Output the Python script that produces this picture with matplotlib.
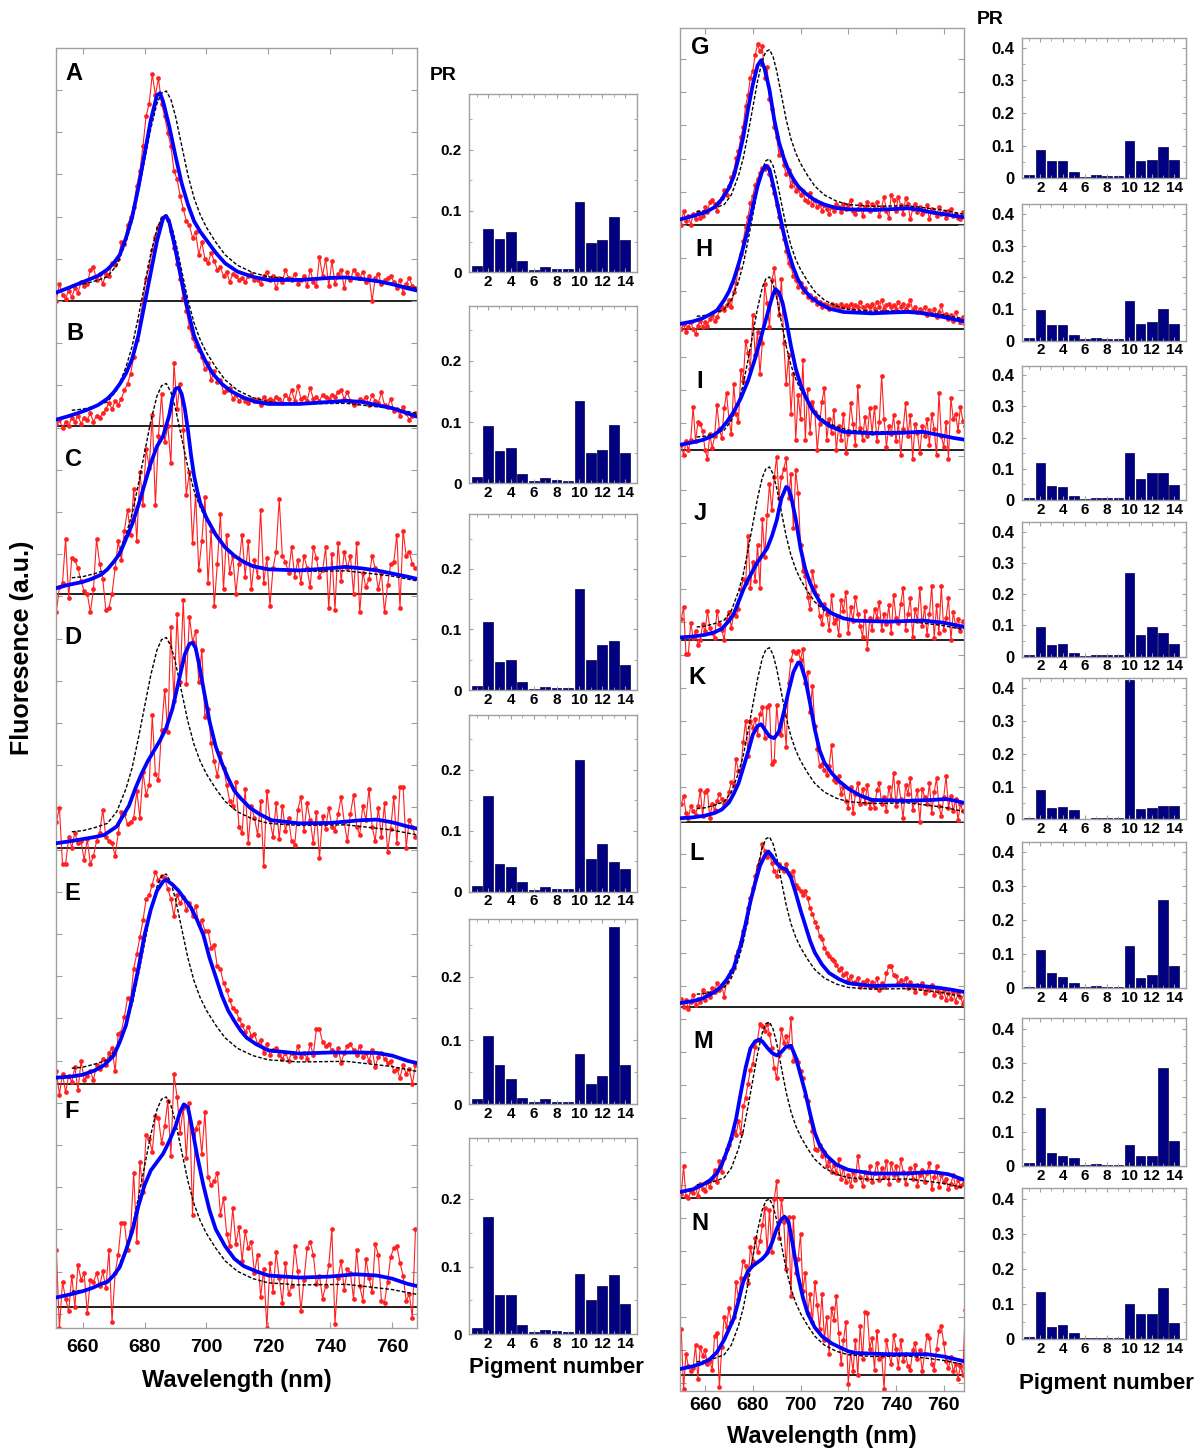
import numpy as np
import matplotlib
matplotlib.use("Agg")
import matplotlib.pyplot as plt
from matplotlib.ticker import FixedLocator, MultipleLocator

plt.rcParams['font.family'] = ['Liberation Sans', 'DejaVu Sans']
plt.rcParams['font.weight'] = 'bold'

# ------------------------------------------------------------------ data
WL_TICKS = [660, 680, 700, 720, 740, 760]
PIGMENTS = list(range(1, 15))
PIG_TICKS = [2, 4, 6, 8, 10, 12, 14]

# reference (dashed) spectrum, normalised to its peak
REF_WL = [656.5, 660, 664, 668, 671, 674, 676, 678, 680, 682, 684, 685.5, 687, 688.5, 690, 692, 694, 696,
          698, 700, 703, 706, 710, 715, 720, 730, 740, 745, 750, 760, 768]
REF = [0.075, 0.08, 0.095, 0.115, 0.17, 0.28, 0.38, 0.52, 0.67, 0.82, 0.94, 0.99, 1.0, 0.96, 0.88, 0.74,
       0.60, 0.49, 0.41, 0.35, 0.28, 0.22, 0.17, 0.135, 0.115, 0.105, 0.107, 0.108, 0.10, 0.083, 0.06]

# measured spectra (red), left column 651.5..767.5 nm, right column 650..769 nm
RED_A = [0.00, 0.08, 0.03, 0.01, 0.05, 0.02, 0.06, 0.04, 0.09, 0.07,
         0.08, 0.15, 0.16, 0.10, 0.13, 0.08, 0.13, 0.12, 0.18, 0.17,
         0.20, 0.28, 0.27, 0.36, 0.40, 0.45, 0.55, 0.62, 0.74, 0.88,
         0.94, 1.08, 0.98, 1.06, 0.94, 0.88, 0.80, 0.74, 0.62, 0.58,
         0.50, 0.44, 0.38, 0.36, 0.30, 0.33, 0.22, 0.28, 0.20, 0.18,
         0.23, 0.19, 0.15, 0.16, 0.12, 0.14, 0.09, 0.13, 0.12, 0.10,
         0.11, 0.09, 0.12, 0.13, 0.10, 0.10, 0.08, 0.12, 0.14, 0.10,
         0.12, 0.06, 0.11, 0.09, 0.15, 0.11, 0.10, 0.13, 0.08, 0.10,
         0.12, 0.07, 0.15, 0.09, 0.07, 0.21, 0.12, 0.20, 0.07, 0.19,
         0.08, 0.13, 0.15, 0.06, 0.14, 0.10, 0.15, 0.13, 0.11, 0.14,
         0.09, 0.12, 0.00, 0.11, 0.13, 0.08, 0.10, 0.11, 0.12, 0.09,
         0.06, 0.10, 0.04, 0.08, 0.11, 0.07, 0.06]
RED_B = [0.01, 0.03, -0.01, 0.02, 0.00, 0.04, 0.02, 0.05, 0.01, 0.04,
         0.03, 0.06, 0.02, 0.05, 0.04, 0.06, 0.08, 0.11, 0.08, 0.12,
         0.10, 0.13, 0.17, 0.20, 0.25, 0.33, 0.41, 0.50, 0.60, 0.70,
         0.76, 0.84, 0.90, 0.95, 0.99, 1.00, 0.98, 0.93, 0.85, 0.77,
         0.70, 0.61, 0.55, 0.47, 0.42, 0.38, 0.36, 0.33, 0.27, 0.30,
         0.22, 0.26, 0.21, 0.22, 0.16, 0.17, 0.18, 0.13, 0.15, 0.12,
         0.14, 0.12, 0.11, 0.13, 0.12, 0.13, 0.10, 0.14, 0.12, 0.13,
         0.12, 0.14, 0.13, 0.11, 0.15, 0.13, 0.17, 0.12, 0.19, 0.13,
         0.14, 0.12, 0.18, 0.13, 0.14, 0.12, 0.15, 0.14, 0.13, 0.15,
         0.14, 0.16, 0.17, 0.13, 0.16, 0.12, 0.10, 0.11, 0.13, 0.12,
         0.14, 0.10, 0.15, 0.12, 0.11, 0.16, 0.10, 0.09, 0.13, 0.07,
         0.08, 0.05, 0.09, 0.06, 0.03, 0.05, 0.06]
RED_C = [-0.09, 0.03, 0.05, 0.26, -0.02, 0.17, 0.16, 0.12, 0.06, 0.01,
         0.00, -0.09, 0.02, 0.26, 0.14, 0.07, -0.08, -0.07, 0.00, 0.12,
         0.25, 0.16, 0.30, 0.40, 0.28, 0.50, 0.25, 0.58, 0.42, 0.69,
         0.60, 0.85, 0.42, 0.75, 0.95, 0.72, 0.80, 0.62, 1.10, 0.88,
         1.00, 0.78, 0.47, 0.58, 0.24, 0.47, 0.11, 0.25, 0.46, 0.05,
         0.30, -0.06, 0.14, 0.38, 0.02, 0.28, 0.10, 0.18, 0.00, 0.14,
         0.28, 0.08, 0.25, 0.02, 0.16, 0.08, 0.40, 0.05, 0.17, -0.06,
         0.12, 0.20, 0.45, 0.18, 0.15, 0.10, 0.22, 0.08, 0.16, 0.05,
         0.18, 0.12, 0.03, 0.22, 0.17, 0.08, 0.11, 0.22, -0.07, 0.19,
         -0.08, 0.24, 0.06, 0.20, 0.12, 0.18, 0.00, 0.24, -0.09, 0.10,
         0.03, 0.07, 0.18, 0.12, 0.02, 0.10, -0.09, 0.04, 0.14, 0.15,
         0.28, -0.07, 0.30, 0.18, 0.20, 0.14, 0.12]
RED_D = [0.12, 0.19, -0.08, -0.08, 0.05, 0.00, 0.07, 0.02, 0.03, -0.06,
         0.04, -0.08, -0.04, 0.03, 0.07, 0.18, 0.05, 0.03, 0.02, -0.04,
         0.07, 0.17, 0.16, 0.11, 0.12, 0.14, 0.27, 0.14, 0.36, 0.25,
         0.30, 0.63, 0.35, 0.32, 0.56, 0.75, 0.55, 1.05, 0.70, 1.11,
         0.79, 1.18, 0.78, 1.10, 0.98, 1.03, 0.79, 0.94, 0.62, 0.66,
         0.50, 0.41, 0.34, 0.45, 0.38, 0.30, 0.22, 0.20, 0.31, 0.10,
         0.07, 0.28, 0.02, 0.20, 0.14, 0.06, 0.22, -0.09, 0.27, 0.13,
         0.05, 0.21, 0.04, 0.20, 0.08, 0.14, 0.03, 0.01, 0.18, 0.24,
         0.08, 0.21, 0.13, 0.02, 0.17, -0.05, 0.15, 0.09, 0.19, 0.10,
         0.08, 0.16, 0.24, 0.12, 0.03, 0.16, 0.25, 0.10, 0.06, 0.20,
         0.13, 0.28, 0.10, 0.03, 0.19, 0.05, 0.21, -0.02, 0.09, 0.24,
         0.02, 0.29, 0.29, 0.00, 0.13, 0.10, 0.05]
RED_E = [0.06, -0.05, 0.05, -0.04, 0.04, 0.01, 0.08, -0.03, 0.11, 0.02,
         0.04, 0.06, 0.02, 0.09, 0.07, 0.12, 0.09, 0.15, 0.17, 0.06,
         0.24, 0.25, 0.32, 0.41, 0.40, 0.55, 0.62, 0.70, 0.78, 0.88,
         0.90, 0.95, 1.01, 0.97, 0.99, 0.98, 0.93, 0.88, 0.80, 0.90,
         0.86, 0.89, 0.83, 0.86, 0.80, 0.85, 0.76, 0.78, 0.73, 0.73,
         0.65, 0.66, 0.56, 0.55, 0.48, 0.45, 0.40, 0.36, 0.35, 0.31,
         0.28, 0.25, 0.27, 0.23, 0.24, 0.19, 0.21, 0.15, 0.19, 0.14,
         0.16, 0.17, 0.14, 0.12, 0.15, 0.11, 0.15, 0.13, 0.18, 0.13,
         0.15, 0.12, 0.19, 0.14, 0.26, 0.26, 0.20, 0.18, 0.19, 0.16,
         0.14, 0.17, 0.10, 0.15, 0.18, 0.19, 0.16, 0.14, 0.18, 0.13,
         0.15, 0.11, 0.16, 0.08, 0.13, 0.15, 0.12, 0.10, 0.11, 0.06,
         0.07, 0.03, 0.09, 0.05, 0.07, 0.00, 0.09]
RED_F = [0.27, -0.10, 0.12, 0.04, -0.02, 0.15, 0.00, 0.20, 0.13, 0.16,
         -0.03, 0.13, 0.12, 0.16, 0.10, 0.17, 0.09, 0.27, -0.07, 0.16,
         0.25, 0.40, 0.40, 0.27, 0.36, 0.64, 0.31, 0.69, 0.55, 0.82,
         0.80, 0.74, 0.91, 0.90, 0.78, 0.86, 0.98, 0.72, 1.11, 1.00,
         0.83, 0.95, 0.71, 0.97, 0.44, 0.85, 0.88, 0.73, 0.93, 0.62,
         0.58, 0.60, 0.64, 0.44, 0.52, 0.35, 0.29, 0.47, 0.30, 0.38,
         0.22, 0.36, 0.28, 0.31, 0.16, 0.25, 0.05, 0.18, -0.10, 0.21,
         0.07, 0.26, 0.14, 0.02, 0.21, 0.06, 0.10, 0.29, 0.17, -0.02,
         0.13, 0.28, 0.31, 0.25, 0.11, 0.15, 0.04, 0.10, 0.20, 0.37,
         -0.08, 0.14, 0.22, 0.08, 0.18, 0.16, 0.04, 0.27, 0.10, 0.03,
         0.23, 0.14, 0.07, 0.30, 0.25, 0.03, 0.02, 0.12, 0.24, 0.28,
         0.29, 0.21, 0.15, 0.03, 0.06, -0.05, 0.37]
RED_G = [0.00, 0.08, 0.02, 0.05, 0.00, 0.06, 0.03, 0.07, 0.04, 0.05,
         0.10, 0.07, 0.13, 0.14, 0.12, 0.08, 0.13, 0.15, 0.20, 0.17,
         0.22, 0.27, 0.30, 0.38, 0.42, 0.50, 0.56, 0.68, 0.74, 0.84,
         0.88, 0.97, 1.03, 0.99, 1.02, 0.84, 0.90, 0.72, 0.66, 0.56,
         0.50, 0.40, 0.42, 0.34, 0.29, 0.31, 0.22, 0.25, 0.19, 0.21,
         0.17, 0.19, 0.14, 0.13, 0.18, 0.11, 0.14, 0.10, 0.12, 0.08,
         0.11, 0.09, 0.06, 0.10, 0.08, 0.12, 0.10, 0.07, 0.12, 0.09,
         0.11, 0.14, 0.08, 0.06, 0.09, 0.12, 0.05, 0.10, 0.13, 0.08,
         0.12, 0.09, 0.13, 0.05, 0.10, 0.16, 0.08, 0.04, 0.17, 0.14,
         0.08, 0.16, 0.11, 0.06, 0.15, 0.12, 0.03, 0.09, 0.12, 0.07,
         0.10, 0.06, 0.08, 0.11, 0.03, 0.09, 0.07, 0.05, 0.10, 0.06,
         0.07, 0.04, 0.08, 0.09, 0.05, 0.06, 0.04, 0.03, 0.07, 0.05]
RED_H = [0.00, 0.03, -0.02, 0.01, 0.04, 0.00, -0.03, 0.02, 0.05, 0.01,
         0.04, 0.02, 0.06, 0.08, 0.05, 0.07, 0.11, 0.13, 0.11, 0.14,
         0.17, 0.13, 0.22, 0.27, 0.36, 0.44, 0.52, 0.60, 0.66, 0.74,
         0.78, 0.85, 0.88, 0.92, 0.95, 0.94, 0.96, 0.91, 0.85, 0.80,
         0.73, 0.66, 0.60, 0.53, 0.46, 0.39, 0.37, 0.31, 0.29, 0.25,
         0.27, 0.22, 0.24, 0.19, 0.20, 0.17, 0.18, 0.15, 0.16, 0.13,
         0.15, 0.14, 0.12, 0.15, 0.13, 0.14, 0.12, 0.15, 0.13, 0.14,
         0.13, 0.15, 0.12, 0.14, 0.13, 0.16, 0.13, 0.11, 0.14, 0.13,
         0.15, 0.12, 0.16, 0.13, 0.17, 0.12, 0.14, 0.15, 0.13, 0.14,
         0.12, 0.16, 0.13, 0.15, 0.12, 0.14, 0.17, 0.11, 0.13, 0.10,
         0.12, 0.10, 0.13, 0.08, 0.11, 0.09, 0.12, 0.07, 0.10, 0.14,
         0.08, 0.09, 0.06, 0.08, 0.05, 0.10, 0.06, 0.04, 0.07, 0.03]
RED_I = [0.03, -0.03, 0.05, 0.00, 0.06, 0.25, 0.05, 0.16, 0.15, 0.11,
         0.00, -0.05, 0.09, 0.01, 0.08, 0.26, 0.12, 0.07, 0.24, 0.33,
         0.18, 0.09, 0.38, 0.21, 0.16, 0.46, 0.40, 0.63, 0.56, 0.47,
         0.78, 0.55, 0.68, 0.44, 0.62, 0.96, 0.85, 0.71, 0.98, 1.05,
         0.90, 0.78, 0.99, 0.62, 0.38, 0.55, 0.21, 0.44, 0.06, 0.32,
         0.18, 0.52, 0.06, 0.35, 0.10, 0.28, 0.22, 0.00, 0.15, 0.28,
         0.36, 0.06, 0.18, 0.10, 0.23, 0.00, 0.14, 0.06, 0.21, -0.02,
         0.09, 0.27, 0.15, 0.03, 0.37, 0.13, 0.06, 0.19, 0.08, 0.24,
         0.10, 0.25, 0.05, 0.16, 0.43, 0.18, 0.02, 0.14, 0.09, 0.20,
         0.05, 0.16, -0.03, 0.12, 0.27, 0.08, 0.20, -0.05, 0.15, 0.10,
         -0.02, 0.14, 0.08, 0.18, 0.03, 0.21, 0.12, -0.03, 0.33, 0.08,
         0.02, 0.16, -0.05, 0.30, 0.18, 0.21, 0.11, 0.25, 0.17, 0.14]
RED_J = [0.12, 0.19, -0.08, -0.08, 0.10, 0.01, 0.05, -0.03, 0.00, 0.09,
         0.05, 0.17, 0.07, 0.04, 0.01, 0.17, 0.09, 0.06, 0.00, 0.12,
         0.16, 0.07, 0.15, 0.14, 0.18, 0.29, 0.35, 0.33, 0.60, 0.30,
         0.45, 0.34, 0.55, 0.30, 0.70, 0.48, 0.72, 0.90, 0.75, 0.94,
         1.06, 0.82, 0.94, 0.99, 1.05, 0.82, 0.96, 0.65, 0.98, 0.85,
         0.55, 0.40, 0.37, 0.25, 0.18, 0.40, 0.31, 0.26, 0.14, 0.09,
         0.21, 0.15, 0.06, 0.26, 0.10, 0.12, 0.03, 0.23, 0.17, 0.28,
         0.04, 0.19, 0.11, 0.25, 0.15, 0.08, 0.02, 0.17, -0.05, 0.13,
         0.06, 0.18, 0.13, 0.22, 0.06, 0.15, 0.09, 0.20, 0.04, 0.26,
         0.13, 0.10, 0.21, 0.30, 0.06, 0.15, 0.24, 0.02, 0.18, 0.11,
         0.30, 0.08, 0.19, 0.03, 0.15, 0.31, 0.01, 0.20, 0.04, 0.31,
         0.06, 0.13, 0.24, 0.00, 0.16, 0.08, 0.12, 0.05, 0.11, 0.07]
RED_K = [0.10, 0.15, 0.05, 0.02, 0.09, 0.06, 0.04, 0.09, 0.18, 0.03,
         0.17, 0.18, 0.02, 0.10, 0.07, 0.12, 0.16, 0.13, 0.10, 0.12,
         0.17, 0.23, 0.21, 0.36, 0.29, 0.30, 0.46, 0.58, 0.38, 0.58,
         0.54, 0.59, 0.50, 0.62, 0.66, 0.48, 0.66, 0.67, 0.33, 0.35,
         0.67, 0.51, 0.50, 0.62, 0.43, 0.80, 0.93, 0.98, 0.97, 0.98,
         0.93, 0.99, 0.80, 0.86, 0.63, 0.78, 0.55, 0.42, 0.32, 0.33,
         0.30, 0.27, 0.32, 0.44, 0.24, 0.23, 0.26, 0.16, 0.20, 0.12,
         0.08, 0.20, 0.05, 0.16, 0.22, 0.10, 0.19, 0.11, 0.21, 0.08,
         0.12, 0.08, 0.18, 0.22, 0.10, 0.14, 0.06, 0.20, 0.13, 0.28,
         0.09, 0.23, 0.13, 0.02, 0.21, 0.16, 0.25, 0.07, 0.12, 0.18,
         0.00, 0.19, 0.14, 0.10, 0.22, 0.05, 0.17, 0.25, 0.09, 0.03,
         0.14, 0.26, 0.08, 0.15, 0.06, 0.13, 0.01, 0.10, 0.06, 0.07]
RED_L = [0.05, 0.00, 0.04, -0.01, 0.03, 0.07, 0.01, 0.05, 0.03, 0.10,
         0.04, 0.08, 0.06, 0.11, 0.09, 0.14, 0.10, 0.13, 0.06, 0.15,
         0.18, 0.21, 0.23, 0.30, 0.33, 0.38, 0.45, 0.50, 0.58, 0.64,
         0.70, 0.77, 0.83, 0.86, 0.96, 0.92, 0.88, 0.90, 0.85, 0.80,
         0.77, 0.84, 0.82, 0.80, 0.84, 0.79, 0.77, 0.80, 0.72, 0.70,
         0.68, 0.66, 0.68, 0.64, 0.58, 0.55, 0.50, 0.47, 0.42, 0.40,
         0.35, 0.32, 0.30, 0.28, 0.27, 0.25, 0.22, 0.23, 0.19, 0.20,
         0.16, 0.18, 0.14, 0.15, 0.17, 0.12, 0.15, 0.13, 0.16, 0.12,
         0.15, 0.12, 0.17, 0.10, 0.14, 0.12, 0.20, 0.24, 0.24, 0.19,
         0.18, 0.14, 0.16, 0.13, 0.17, 0.11, 0.15, 0.12, 0.09, 0.13,
         0.11, 0.14, 0.08, 0.12, 0.10, 0.13, 0.07, 0.11, 0.09, 0.06,
         0.10, 0.04, 0.08, 0.05, 0.09, 0.03, 0.08, 0.06, 0.02, 0.07]
RED_M = [0.02, 0.18, 0.01, 0.00, 0.04, 0.03, 0.06, 0.01, 0.08, 0.05,
         0.04, 0.09, 0.06, 0.11, 0.16, 0.09, 0.21, 0.15, 0.23, 0.28,
         0.30, 0.34, 0.38, 0.36, 0.44, 0.37, 0.52, 0.57, 0.65, 0.73,
         0.76, 0.86, 0.90, 0.99, 0.98, 0.95, 0.99, 0.93, 0.85, 0.74,
         0.68, 0.81, 0.96, 0.88, 0.92, 0.86, 1.02, 0.78, 0.79, 0.77,
         0.72, 0.68, 0.58, 0.55, 0.44, 0.38, 0.28, 0.27, 0.30, 0.24,
         0.26, 0.18, 0.21, 0.15, 0.19, 0.14, 0.22, 0.11, 0.17, 0.09,
         0.13, 0.07, 0.15, 0.10, 0.24, 0.12, 0.07, 0.15, 0.11, 0.18,
         0.09, 0.14, 0.20, 0.10, 0.17, 0.12, 0.21, 0.08, 0.20, 0.13,
         0.18, 0.10, 0.22, 0.15, 0.08, 0.14, 0.17, 0.11, 0.19, 0.07,
         0.13, 0.16, 0.09, 0.14, 0.20, 0.05, 0.12, 0.18, 0.06, 0.13,
         0.09, 0.11, 0.05, 0.08, 0.13, 0.06, 0.10, 0.07, 0.08, 0.09]
RED_N = [0.26, -0.08, 0.12, 0.05, 0.02, 0.04, 0.17, -0.02, 0.16, 0.11,
         0.14, 0.06, 0.08, 0.03, 0.22, 0.24, -0.07, 0.16, 0.33, 0.27,
         0.38, 0.30, 0.33, 0.53, 0.43, 0.55, 0.65, 0.62, 0.52, 0.73,
         0.65, 0.78, 0.70, 0.76, 0.85, 0.95, 0.70, 0.94, 0.70, 1.00,
         1.10, 0.78, 1.00, 0.87, 0.60, 0.90, 0.45, 0.90, 0.58, 0.66,
         0.80, 0.48, 0.58, 0.35, 0.46, 0.30, 0.53, 0.40, 0.26, 0.46,
         0.20, 0.33, 0.12, 0.38, 0.31, 0.45, 0.24, 0.06, 0.20, 0.30,
         -0.05, 0.13, 0.02, 0.20, 0.00, 0.28, 0.09, 0.36, 0.35, 0.15,
         0.21, 0.03, 0.25, 0.09, 0.11, -0.08, 0.20, 0.12, 0.06, 0.23,
         0.15, 0.04, 0.20, 0.08, 0.12, 0.05, 0.03, 0.14, 0.18, 0.09,
         0.14, 0.02, 0.12, 0.23, 0.21, 0.06, 0.03, 0.15, 0.25, 0.28,
         0.18, 0.08, 0.04, 0.10, 0.02, 0.06, -0.02, 0.05, 0.00, 0.37]

# fitted spectra (blue)
FIT_A_WL = [651.4, 655, 660, 665, 668, 670, 672, 674, 676, 678, 680, 682, 684, 685, 686, 688, 690, 692, 694, 696,
            698, 700, 703, 706, 710, 715, 720, 730, 740, 745, 750, 755, 760, 765, 767.9]
FIT_A = [0.04, 0.06, 0.09, 0.12, 0.15, 0.18, 0.22, 0.30, 0.40, 0.54, 0.70, 0.86, 0.98, 0.99, 0.95, 0.83, 0.69,
         0.56, 0.46, 0.38, 0.33, 0.29, 0.23, 0.18, 0.14, 0.115, 0.10, 0.10, 0.11, 0.112, 0.105, 0.095, 0.08,
         0.06, 0.05]
FIT_B_WL = [651.4, 655, 659, 662, 665, 668, 670, 672, 674, 676, 678, 680, 682, 684, 686, 687, 688, 690, 692, 694,
            696, 698, 700, 702, 705, 708, 712, 716, 720, 730, 740, 745, 750, 755, 760, 765, 767.9]
FIT_B = [0.03, 0.045, 0.064, 0.08, 0.10, 0.13, 0.16, 0.20, 0.25, 0.32, 0.43, 0.58, 0.73, 0.88, 0.99, 1.0, 0.97,
         0.84, 0.69, 0.55, 0.43, 0.36, 0.30, 0.25, 0.20, 0.165, 0.135, 0.115, 0.105, 0.105, 0.115, 0.12, 0.115,
         0.10, 0.085, 0.06, 0.045]
FIT_C_WL = [651.4, 655, 660, 663, 666, 668, 670, 672, 674, 676, 678, 680, 682, 684, 686, 688, 689, 690, 691, 692,
            693, 694, 695, 696, 697, 698, 700, 703, 706, 709, 712, 715, 720, 730, 740, 745, 750, 755, 760, 765,
            767.9]
FIT_C = [0.025, 0.04, 0.055, 0.07, 0.09, 0.115, 0.15, 0.19, 0.26, 0.33, 0.42, 0.52, 0.62, 0.70, 0.75, 0.85,
         0.93, 0.975, 0.98, 0.95, 0.88, 0.78, 0.66, 0.56, 0.49, 0.43, 0.36, 0.28, 0.22, 0.18, 0.15, 0.13, 0.115,
         0.11, 0.12, 0.127, 0.12, 0.11, 0.095, 0.08, 0.07]
FIT_D_WL = [651.4, 656, 660, 664, 667, 669, 671, 673, 675, 677, 679, 681, 683, 685, 687, 689, 691, 693, 694.5,
            695.5, 696.5, 697.5, 699, 701, 703, 705, 707, 709, 711, 714, 717, 721, 730, 740, 750, 755, 760, 765,
            767.9]
FIT_D = [0.02, 0.03, 0.04, 0.05, 0.06, 0.08, 0.10, 0.15, 0.20, 0.28, 0.35, 0.41, 0.46, 0.51, 0.57, 0.66, 0.79,
         0.92, 0.97, 0.975, 0.95, 0.88, 0.76, 0.60, 0.48, 0.40, 0.33, 0.27, 0.235, 0.19, 0.16, 0.13, 0.115,
         0.117, 0.13, 0.133, 0.12, 0.10, 0.09]
FIT_E_WL = [651.4, 656, 660, 664, 667, 670, 672, 674, 676, 678, 680, 682, 684, 686, 687, 689, 691, 693, 695, 697,
            699, 701, 703, 705, 707, 709, 711, 713, 716, 720, 730, 740, 750, 755, 760, 765, 767.9]
FIT_E = [0.03, 0.035, 0.044, 0.065, 0.09, 0.135, 0.20, 0.28, 0.41, 0.55, 0.71, 0.83, 0.92, 0.965, 0.972, 0.95,
         0.92, 0.88, 0.84, 0.78, 0.71, 0.60, 0.51, 0.42, 0.35, 0.30, 0.255, 0.22, 0.19, 0.16, 0.145, 0.15, 0.15,
         0.148, 0.135, 0.11, 0.10]
FIT_F_WL = [651.4, 656, 660, 663, 666, 668, 670, 672, 674, 676, 678, 680, 682, 684, 686, 688, 690, 691.5, 692.7,
            694, 695, 697, 699, 701, 703, 706, 709, 712, 716, 720, 730, 740, 748, 755, 760, 765, 767.9]
FIT_F = [0.045, 0.06, 0.075, 0.09, 0.11, 0.12, 0.15, 0.19, 0.27, 0.36, 0.48, 0.58, 0.65, 0.69, 0.73, 0.79, 0.86,
         0.93, 0.965, 0.95, 0.88, 0.72, 0.58, 0.46, 0.37, 0.29, 0.23, 0.195, 0.17, 0.15, 0.14, 0.145, 0.156,
         0.15, 0.135, 0.11, 0.10]
FIT_G_WL = [649.5, 655, 660, 664, 667, 670, 672, 674, 676, 678, 680, 682, 683.5, 685, 687, 689, 691, 693, 695,
            697, 699, 702, 706, 710, 715, 720, 730, 740, 745, 750, 755, 760, 765, 769.5]
FIT_G = [0.03, 0.05, 0.07, 0.10, 0.145, 0.21, 0.275, 0.38, 0.50, 0.66, 0.80, 0.91, 0.94, 0.89, 0.77, 0.60, 0.47,
         0.38, 0.31, 0.26, 0.22, 0.18, 0.14, 0.115, 0.095, 0.088, 0.084, 0.09, 0.094, 0.085, 0.07, 0.06, 0.05,
         0.04]
FIT_H_WL = [649.5, 655, 659, 662, 665, 668, 670, 672, 674, 676, 678, 680, 682, 684, 685.5, 687, 689, 691, 693,
            695, 697, 699, 701, 704, 708, 712, 718, 730, 740, 745, 750, 755, 760, 765, 769.5]
FIT_H = [0.03, 0.045, 0.063, 0.085, 0.11, 0.17, 0.22, 0.29, 0.38, 0.48, 0.59, 0.72, 0.84, 0.93, 0.96, 0.94, 0.82,
         0.69, 0.56, 0.45, 0.36, 0.29, 0.24, 0.19, 0.15, 0.12, 0.10, 0.092, 0.098, 0.10, 0.095, 0.083, 0.07,
         0.055, 0.043]
FIT_I_WL = [649.5, 655, 659, 663, 666, 669, 672, 675, 678, 681, 683, 685, 687, 688.5, 689.5, 691, 692.5, 694, 696,
            698, 700, 702, 705, 708, 712, 718, 730, 744, 751, 758, 764, 769.5]
FIT_I = [0.03, 0.045, 0.058, 0.08, 0.11, 0.16, 0.22, 0.30, 0.40, 0.53, 0.63, 0.73, 0.83, 0.90, 0.93, 0.91, 0.85,
         0.75, 0.60, 0.47, 0.38, 0.31, 0.23, 0.18, 0.14, 0.105, 0.096, 0.10, 0.106, 0.087, 0.07, 0.058]
FIT_J_WL = [649.5, 655, 660, 664, 667, 670, 672, 674, 676, 678, 680, 682, 684, 686, 688, 690, 692, 694, 695, 696,
            698, 700, 702, 704, 706, 709, 713, 718, 723, 737, 751, 760, 769.5]
FIT_J = [0.015, 0.02, 0.03, 0.045, 0.065, 0.11, 0.15, 0.22, 0.29, 0.35, 0.40, 0.45, 0.49, 0.53, 0.60, 0.69, 0.82,
         0.885, 0.875, 0.83, 0.70, 0.53, 0.41, 0.33, 0.27, 0.20, 0.155, 0.125, 0.112, 0.106, 0.113, 0.10, 0.073]
FIT_K_WL = [649.5, 655, 660, 664, 667, 670, 672, 674, 676, 678, 680, 682, 683.5, 685, 687, 689, 691, 693, 695,
            697, 699, 700, 702, 704, 706, 708, 710, 713, 716, 720, 725, 730, 744, 755, 761, 765, 769.5]
FIT_K = [0.02, 0.025, 0.035, 0.05, 0.07, 0.11, 0.16, 0.22, 0.31, 0.40, 0.50, 0.55, 0.56, 0.53, 0.49, 0.48, 0.52,
         0.63, 0.75, 0.86, 0.915, 0.91, 0.82, 0.68, 0.53, 0.41, 0.34, 0.28, 0.235, 0.19, 0.15, 0.125, 0.12,
         0.125, 0.13, 0.12, 0.105]
FIT_L_WL = [649.5, 655, 659, 663, 666, 669, 672, 675, 677, 679, 681, 683, 685, 686.5, 688, 690, 692, 694, 696,
            698, 700, 702, 704, 706, 709, 712, 716, 720, 730, 744, 750, 758, 764, 769.5]
FIT_L = [0.023, 0.035, 0.05, 0.08, 0.11, 0.16, 0.23, 0.37, 0.49, 0.62, 0.73, 0.83, 0.89, 0.915, 0.89, 0.845,
         0.82, 0.81, 0.76, 0.67, 0.57, 0.48, 0.39, 0.32, 0.25, 0.20, 0.165, 0.14, 0.124, 0.128, 0.125, 0.113,
         0.10, 0.086]
FIT_M_WL = [649.5, 655, 659, 662, 665, 667, 669, 671, 673, 675, 677, 679, 681, 682.7, 684, 686, 688, 690, 692,
            694, 696, 698, 700, 702, 704, 706, 708, 711, 715, 720, 730, 744, 755, 762, 769.5]
FIT_M = [0.034, 0.05, 0.075, 0.10, 0.14, 0.19, 0.26, 0.34, 0.45, 0.60, 0.74, 0.85, 0.89, 0.90, 0.89, 0.855,
         0.825, 0.81, 0.83, 0.86, 0.865, 0.80, 0.70, 0.60, 0.48, 0.37, 0.30, 0.24, 0.19, 0.16, 0.139, 0.139,
         0.148, 0.135, 0.098]
FIT_N_WL = [649.5, 655, 659, 662, 665, 668, 670, 672, 674, 676, 678, 680, 682, 684, 686, 688, 690, 692, 693.3,
            695, 697, 699, 701, 703, 706, 709, 713, 716, 720, 723, 737, 753, 760, 769.5]
FIT_N = [0.034, 0.05, 0.068, 0.09, 0.13, 0.20, 0.26, 0.32, 0.42, 0.53, 0.59, 0.62, 0.64, 0.66, 0.69, 0.75, 0.83,
         0.885, 0.90, 0.87, 0.72, 0.56, 0.44, 0.35, 0.27, 0.22, 0.18, 0.16, 0.135, 0.125, 0.118, 0.118, 0.105,
         0.075]

# participation ratios (bars)
PR_A = [0.010, 0.071, 0.055, 0.065, 0.018, 0.003, 0.008, 0.006, 0.005, 0.114, 0.047, 0.053, 0.090, 0.053]
PR_B = [0.011, 0.094, 0.052, 0.057, 0.016, 0.004, 0.008, 0.006, 0.004, 0.135, 0.049, 0.055, 0.095, 0.049]
PR_C = [0.007, 0.113, 0.046, 0.050, 0.013, 0.002, 0.005, 0.003, 0.003, 0.167, 0.049, 0.074, 0.081, 0.041]
PR_D = [0.009, 0.157, 0.045, 0.041, 0.016, 0.003, 0.007, 0.005, 0.005, 0.216, 0.054, 0.079, 0.048, 0.037]
PR_E = [0.008, 0.107, 0.062, 0.039, 0.010, 0.003, 0.008, 0.004, 0.003, 0.079, 0.032, 0.045, 0.277, 0.061]
PR_F = [0.010, 0.173, 0.058, 0.058, 0.014, 0.004, 0.007, 0.005, 0.004, 0.089, 0.051, 0.071, 0.088, 0.044]
PR_G = [0.010, 0.087, 0.053, 0.053, 0.020, 0.005, 0.011, 0.008, 0.007, 0.115, 0.052, 0.057, 0.097, 0.056]
PR_H = [0.009, 0.098, 0.051, 0.048, 0.017, 0.004, 0.009, 0.006, 0.006, 0.126, 0.054, 0.060, 0.099, 0.052]
PR_I = [0.008, 0.120, 0.045, 0.043, 0.013, 0.003, 0.007, 0.005, 0.005, 0.152, 0.066, 0.085, 0.087, 0.047]
PR_J = [0.006, 0.096, 0.036, 0.042, 0.013, 0.001, 0.006, 0.004, 0.004, 0.267, 0.068, 0.096, 0.077, 0.041]
PR_K = [0.003, 0.090, 0.035, 0.037, 0.029, 0.001, 0.003, 0.003, 0.003, 0.424, 0.032, 0.035, 0.041, 0.041]
PR_L = [0.005, 0.113, 0.046, 0.033, 0.015, 0.003, 0.007, 0.003, 0.003, 0.125, 0.030, 0.039, 0.259, 0.066]
PR_M = [0.008, 0.170, 0.037, 0.030, 0.022, 0.002, 0.005, 0.003, 0.004, 0.061, 0.030, 0.030, 0.284, 0.072]
PR_N = [0.006, 0.135, 0.036, 0.042, 0.017, 0.003, 0.005, 0.003, 0.003, 0.101, 0.072, 0.072, 0.146, 0.046]

LETTERS_LEFT = ['A', 'B', 'C', 'D', 'E', 'F']
LETTERS_RIGHT = ['G', 'H', 'I', 'J', 'K', 'L', 'M', 'N']

# ------------------------------------------------------------------ layout
W, H = 1196, 1453
fig = plt.figure(figsize=(W / 100, H / 100), dpi=100)
fig.patch.set_facecolor('white')
SPINE = '#a0a0a0'


def rect(x0, y0, x1, y1):
    return [x0 / W, 1 - y1 / H, (x1 - x0) / W, (y1 - y0) / H]


def fpos(x, y):
    return x / W, 1 - y / H


def spectrum_axes(box, xlim, ytop, ystep, yoff, pad):
    ax = fig.add_axes(rect(*box))
    ax.set_xlim(*xlim)
    ax.set_ylim(0, ytop)
    for s in ax.spines.values():
        s.set_color(SPINE)
        s.set_linewidth(1.0)
    ax.set_xticks(WL_TICKS)
    ax.set_xticklabels([str(t) for t in WL_TICKS], fontsize=14, fontweight='bold')
    ax.set_yticks(np.arange(yoff, ytop, ystep))
    ax.set_yticklabels([])
    ax.tick_params(direction='in', length=4, color=SPINE, top=True, right=True, pad=pad)
    return ax


def draw_spec(ax, base, scale, red_wl, red, fit_wl, fit):
    ax.axhline(base, color='#202020', lw=1.4, zorder=1)
    ax.plot(red_wl, base + scale * np.asarray(red), color='#ff2020', lw=0.8, marker='o', ms=3.4,
            mew=0, zorder=2)
    ax.plot(REF_WL, base + scale * np.asarray(REF), color='black', lw=1.0, dashes=(2.6, 1.4), zorder=3)
    ax.plot(fit_wl, base + scale * np.asarray(fit), color='#0000ff', lw=2.7, zorder=4,
            solid_capstyle='round', solid_joinstyle='round')


def bar_axes(box, vals, ytop, yticks, ylabels, yfs):
    ax = fig.add_axes(rect(*box))
    ax.bar(PIGMENTS, vals, width=0.86, color='#000080', edgecolor='#000050', linewidth=0.5)
    ax.set_xlim(0.33, 15.07)
    ax.set_ylim(0, ytop)
    for s in ax.spines.values():
        s.set_color(SPINE)
        s.set_linewidth(1.0)
    ax.set_xticks(PIG_TICKS)
    ax.set_xticklabels([str(t) for t in PIG_TICKS], fontsize=11, fontweight='bold')
    ax.xaxis.set_minor_locator(FixedLocator(PIGMENTS))
    ax.set_yticks(yticks)
    ax.set_yticklabels(ylabels, fontsize=yfs, fontweight='bold')
    ax.yaxis.set_minor_locator(MultipleLocator(0.05))
    ax.tick_params(which='both', direction='in', color=SPINE, top=True, right=True)
    ax.tick_params(which='major', length=3)
    ax.tick_params(which='minor', length=2)
    ax.tick_params(axis='x', pad=2)
    ax.tick_params(axis='y', pad=5)
    return ax


# ---- left spectra
axL = spectrum_axes((56, 48, 416.7, 1328), (651.4, 767.9), 1280, 42.2, 14.2, 8)
left_bases = [1027, 902, 734.5, 480.5, 244, 21]
left_red = [RED_A, RED_B, RED_C, RED_D, RED_E, RED_F]
left_fit = [(FIT_A_WL, FIT_A), (FIT_B_WL, FIT_B), (FIT_C_WL, FIT_C), (FIT_D_WL, FIT_D),
            (FIT_E_WL, FIT_E), (FIT_F_WL, FIT_F)]
for base, red, (fw, fv) in zip(left_bases, left_red, left_fit):
    draw_spec(axL, base, 210, np.linspace(651.5, 767.5, len(red)), red, fw, fv)

# ---- right spectra
axR = spectrum_axes((680, 28, 964, 1391), (649.5, 768.5), 1363, 33.1, 7.8, 4)
right_bases = [1166.3, 1062, 941, 751, 569.3, 384, 193, 16]
right_scales = [175, 170, 173, 173, 174, 170, 176, 176]
right_red = [RED_G, RED_H, RED_I, RED_J, RED_K, RED_L, RED_M, RED_N]
right_fit = [(FIT_G_WL, FIT_G), (FIT_H_WL, FIT_H), (FIT_I_WL, FIT_I), (FIT_J_WL, FIT_J),
             (FIT_K_WL, FIT_K), (FIT_L_WL, FIT_L), (FIT_M_WL, FIT_M), (FIT_N_WL, FIT_N)]
for base, sc, red, (fw, fv) in zip(right_bases, right_scales, right_red, right_fit):
    draw_spec(axR, base, sc, np.linspace(650, 769, len(red)), red, fw, fv)

# ---- panel letters
left_letter_pos = [(74, 73), (75, 333), (73, 460), (73, 638), (72, 893), (72, 1112)]
right_letter_pos = [(700, 47), (704, 249), (700, 381), (700, 514), (697, 678), (697, 853), (703, 1041),
                    (700, 1223)]
for t, (x, y) in zip(LETTERS_LEFT, left_letter_pos):
    fig.text(*fpos(x, y), t, fontsize=17, fontweight='bold', ha='center', va='center')
for t, (x, y) in zip(LETTERS_RIGHT, right_letter_pos):
    fig.text(*fpos(x, y), t, fontsize=17, fontweight='bold', ha='center', va='center')

# ---- bar panels
left_bar_boxes = [(469, 94.3, 637.3, 272.3), (469, 305.7, 637.3, 483.3), (469, 514.3, 637.3, 690),
                  (469, 715, 637.3, 891.7), (469, 919, 637.3, 1104.3), (469, 1137.7, 637.3, 1334.3)]
for box, vals in zip(left_bar_boxes, [PR_A, PR_B, PR_C, PR_D, PR_E, PR_F]):
    bar_axes(box, vals, 0.29, [0, 0.1, 0.2], ['0', '0.1', '0.2'], 11)

right_bar_boxes = [(1021.7, 37.7, 1186, 178.3), (1021.7, 204.3, 1186, 340.7), (1021.7, 365.7, 1186, 500),
                   (1021.7, 522.3, 1186, 656.7), (1021.7, 678.3, 1186, 819.3), (1021.7, 841.7, 1186, 988.3),
                   (1021.7, 1018.3, 1186, 1166), (1021.7, 1188.3, 1186, 1339.3)]
for box, vals in zip(right_bar_boxes, [PR_G, PR_H, PR_I, PR_J, PR_K, PR_L, PR_M, PR_N]):
    bar_axes(box, vals, 0.43, [0, 0.1, 0.2, 0.3, 0.4], ['0', '0.1', '0.2', '0.3', '0.4'], 12)

# ---- labels
fig.text(*fpos(22, 648), 'Fluoresence (a.u.)', rotation=90, fontsize=18, fontweight='bold',
         ha='center', va='center')
fig.text(*fpos(237, 1380), 'Wavelength (nm)', fontsize=17, fontweight='bold', ha='center', va='center')
fig.text(*fpos(822, 1437), 'Wavelength (nm)', fontsize=17, fontweight='bold', ha='center', va='center')
fig.text(*fpos(556, 1368), 'Pigment number', fontsize=16, fontweight='bold', ha='center', va='center')
fig.text(*fpos(1106, 1383), 'Pigment number', fontsize=16, fontweight='bold', ha='center', va='center')
fig.text(*fpos(443, 76), 'PR', fontsize=14, fontweight='bold', ha='center', va='center')
fig.text(*fpos(990, 20), 'PR', fontsize=14, fontweight='bold', ha='center', va='center')

fig.savefig('out.png', dpi=100, facecolor='white')
